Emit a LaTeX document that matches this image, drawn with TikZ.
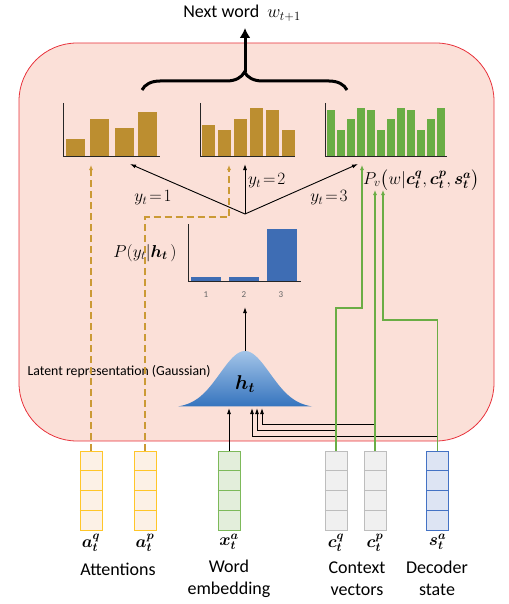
\RequirePackage{fix-cm}
\documentclass[tikz,border=0pt]{standalone}
\usepackage{amsmath,bm}
\usepackage{fontspec}
\setmainfont{Carlito}
\usetikzlibrary{arrows.meta,calc,positioning,decorations.pathreplacing}

\definecolor{panelfill}{HTML}{FBE0D8}
\definecolor{panelline}{HTML}{E8333C}
\definecolor{gold}{HTML}{BC8E30}
\definecolor{goldline}{HTML}{CB9A35}
\definecolor{leaf}{HTML}{6AAD45}
\definecolor{bluebar}{HTML}{3E6DB4}
\definecolor{gausstop}{HTML}{A3C4E8}
\definecolor{gaussbot}{HTML}{3574BE}
\definecolor{attdraw}{HTML}{FFC629}
\definecolor{attfill}{HTML}{FCF1E6}
\definecolor{embdraw}{HTML}{7DB95A}
\definecolor{embfill}{HTML}{E3EEDB}
\definecolor{ctxdraw}{HTML}{BDBDBD}
\definecolor{ctxfill}{HTML}{F0F0F0}
\definecolor{decdraw}{HTML}{4472C4}
\definecolor{decfill}{HTML}{DDE4F3}

\begin{document}
\begin{tikzpicture}[
        x=1pt, y=-1pt, % pixel grid, y grows downwards
        vec/.style={draw, line width=1pt, minimum width=22pt, minimum height=79pt, inner sep=0pt},
        ax/.style={line width=1pt, draw=black!85},
        arr/.style={-{Latex[length=6pt,width=4pt]}, line width=0.9pt},
        att/.style={draw=goldline, dash pattern=on 7pt off 4pt, line width=1.3pt, -{Latex[length=5pt,width=4pt]}},
        ctx/.style={draw=leaf, line width=1.2pt, -{Latex[length=5pt,width=4pt]}},
        lbl/.style={font=\fontsize{18}{22}\selectfont, inner sep=1pt},
        mth/.style={font=\fontsize{17.28}{20}\selectfont, inner sep=1pt},
    ]
    \useasboundingbox (0,0) rectangle (508,604);

    % panel
    \draw[fill=panelfill, draw=panelline, line width=0.8pt, rounded corners=58pt] (19,43) rectangle (494,441);

    % three output distributions
    \foreach \x/\t in {66/139, 90/119, 115/128, 138/112}
        \fill[gold] (\x,157) rectangle ({\x+19},\t);
    \foreach \x/\t in {202/125, 218/130, 234/119, 250/108, 266/110, 282/130}
        \fill[gold] (\x,157) rectangle ({\x+13},\t);
    \foreach \i/\t in {0/110, 1/130, 2/119, 3/108, 4/110, 5/130, 6/119, 7/108, 8/110, 9/130, 10/119, 11/108}
        \fill[leaf] ({327+10*\i},157) rectangle ({335+10*\i},\t);
    \draw[ax] (63,103) -- (63,157) -- (160,157);
    \draw[ax] (200,103) -- (200,157) -- (295,157);
    \draw[ax] (325,103) -- (325,157) -- (447,157);

    % next word
    \node[lbl] (next) at (242,13) {Next word \ $w_{t+1}$};
    \draw[decorate, decoration={brace, amplitude=18pt}, line width=3pt] (142,90) -- (347,90);
    \coordinate (bracetip) at (245,72);
    \draw[line width=3pt, -{Latex[length=10pt,width=11pt]}] (bracetip) -- (245,28);

    % switch over y_t
    \coordinate (hub) at (245,214);
    \coordinate (d1) at (130,164);
    \coordinate (d2) at (245,164);
    \coordinate (d3) at (358,164);
    \draw[arr] (hub) -- (d1);
    \draw[arr] (hub) -- (d2);
    \draw[arr] (hub) -- (d3);
    \node[mth] at (153,198) {$y_t\!=\!1$};
    \node[mth, anchor=west] at (247,181) {$y_t\!=\!2$};
    \node[mth] at (329,198) {$y_t\!=\!3$};
    \node[mth, anchor=west] (pv) at (362,180) {$P_v\big(w|\bm{c_t^q},\bm{c_t^p},\bm{s_t^a}\big)$};

    % P(y_t|h_t)
    \fill[bluebar] (191,281) rectangle (221,277);
    \fill[bluebar] (229,281) rectangle (259,277);
    \fill[bluebar] (267,281) rectangle (297,229);
    \draw[ax] (188,224) -- (188,281) -- (301,281);
    \foreach \x/\n in {206/1, 244/2, 281/3}
        \node[font=\fontsize{9}{10}\selectfont, text=black!60] at (\x,295) {\n};
    \node[mth] at (145,253) {$P(y_t|\bm{h_t}\,)$};
    \coordinate (pyh) at (245,307);

    % latent Gaussian
    \shade[top color=gausstop, bottom color=gaussbot]
        plot[domain=-67:67, samples=60, smooth] ({245+\x},{408-57*exp(-(\x*\x)/1250)}) -- cycle;
    \coordinate (gtop) at (245,351);
    \node[font=\fontsize{20}{22}\selectfont] at (245,384) {$\bm{h_t}$};
    \node[anchor=west, font=\fontsize{13.8}{16}\selectfont] at (24,372) {Latent representation (Gaussian)};
    \draw[arr] (gtop) -- (pyh);

    % input vectors
    \node[vec, draw=attdraw, fill=attfill] (aq) at (91,490.5) {};
    \node[vec, draw=attdraw, fill=attfill] (ap) at (145,490.5) {};
    \node[vec, draw=embdraw, fill=embfill] (xa) at (229,490.5) {};
    \node[vec, draw=ctxdraw, fill=ctxfill] (cq) at (336,490.5) {};
    \node[vec, draw=ctxdraw, fill=ctxfill] (cp) at (375,490.5) {};
    \node[vec, draw=decdraw, fill=decfill] (sa) at (437.5,490.5) {};
    \foreach \n/\c in {aq/attdraw, ap/attdraw, xa/embdraw, cq/ctxdraw, cp/ctxdraw, sa/decdraw}
        \foreach \k in {1,2,3}
            \draw[\c, line width=1pt] ($(\n.north west)!\k/4!(\n.south west)$) -- ($(\n.north east)!\k/4!(\n.south east)$);

    \node[mth, below=2pt of aq] {$\bm{a_t^q}$};
    \node[mth, below=2pt of ap] {$\bm{a_t^p}$};
    \node[mth, below=2pt of xa] {$\bm{x_t^a}$};
    \node[mth, below=2pt of cq] {$\bm{c_t^q}$};
    \node[mth, below=2pt of cp] {$\bm{c_t^p}$};
    \node[mth, below=2pt of sa] {$\bm{s_t^a}$};
    \node[lbl] at (118,569) {Attentions};
    \node[lbl, align=center] at (229,579) {Word\\embedding};
    \node[lbl, align=center] at (357,579) {Context\\vectors};
    \node[lbl, align=center] at (437,578) {Decoder\\state};

    % attention paths
    \draw[att] (aq.north) -- (91,165);
    \draw[att] (ap.north) |- (229,217) -- (229,165);

    % into the Gaussian
    \draw[arr] (xa.north) -- (229,408);
    \draw[arr] (sa.north) |- (252,436) -- (252,408);
    \draw[arr] (cq.north) |- (257,430) -- (257,408);
    \draw[arr] (cp.north) |- (262,424) -- (262,408);

    % into P_v
    \draw[ctx] (cq.north) |- (362,308) -- (362,165);
    \draw[ctx] (cp.north) -- (375,190);
    \draw[ctx] (sa.north) |- (383,320) -- (383,190);

\end{tikzpicture}
\end{document}
